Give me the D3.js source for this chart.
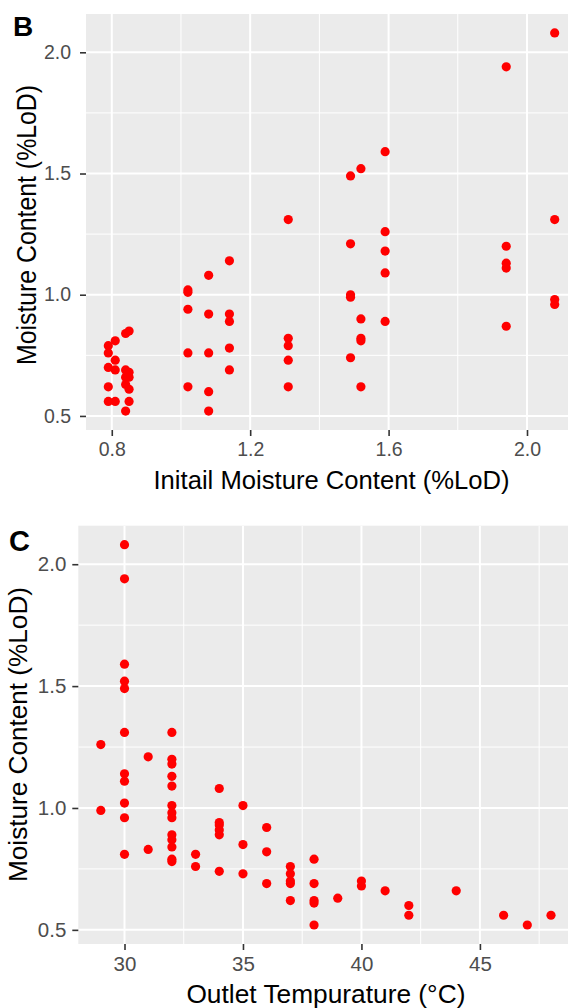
<!DOCTYPE html>
<html>
<head>
<meta charset="utf-8">
<script src="https://cdn.jsdelivr.net/npm/d3@7"></script>
<style>
  html, body { margin: 0; padding: 0; background: #fff; }
  svg { display: block; }
  text { font-family: "Liberation Sans", Arial, sans-serif; }
</style>
</head>
<body>
<svg id="chart" width="568" height="1008"></svg>
<script>
// ---------- Panel B data: initial moisture vs final moisture ----------
const bInitial = [
  0.79, 0.79, 0.79, 0.79, 0.79,
  0.81, 0.81, 0.81, 0.81,
  0.84, 0.84, 0.84, 0.84, 0.84,
  0.85, 0.85, 0.85, 0.85, 0.85,
  1.02, 1.02, 1.02, 1.02, 1.02,
  1.08, 1.08, 1.08, 1.08, 1.08,
  1.14, 1.14, 1.14, 1.14, 1.14,
  1.31, 1.31, 1.31, 1.31, 1.31,
  1.49, 1.49, 1.49, 1.49, 1.49,
  1.52, 1.52, 1.52, 1.52, 1.52,
  1.59, 1.59, 1.59, 1.59, 1.59,
  1.94, 1.94, 1.94, 1.94, 1.94,
  2.08, 2.08, 2.08, 2.08
];
const bMoisture = [
  0.79, 0.76, 0.70, 0.62, 0.56,
  0.81, 0.73, 0.69, 0.56,
  0.84, 0.69, 0.63, 0.52, 0.66,
  0.85, 0.68, 0.66, 0.61, 0.56,
  1.02, 1.01, 0.94, 0.76, 0.62,
  1.08, 0.92, 0.76, 0.60, 0.52,
  1.14, 0.92, 0.89, 0.78, 0.69,
  1.31, 0.82, 0.79, 0.73, 0.62,
  1.49, 1.21, 1.00, 0.99, 0.74,
  1.52, 0.90, 0.82, 0.81, 0.62,
  1.59, 1.26, 1.18, 1.09, 0.89,
  1.94, 1.20, 1.13, 1.11, 0.87,
  2.08, 1.31, 0.98, 0.96
];
const bXTicks = [0.8, 1.2, 1.6, 2.0];
const bXMinor = [0.6, 1.0, 1.4, 1.8, 2.2];
const bYTicks = [0.5, 1.0, 1.5, 2.0];
const bYMinor = [0.75, 1.25, 1.75];

// ---------- Panel C data: outlet temperature vs final moisture ----------
const cTemp = [
  29, 29,
  30, 30, 30, 30, 30, 30, 30, 30, 30, 30, 30,
  31, 31,
  32, 32, 32, 32, 32, 32, 32, 32, 32, 32, 32, 32, 32,
  33, 33,
  34, 34, 34, 34, 34, 34,
  35, 35, 35,
  36, 36, 36,
  37, 37, 37, 37, 37,
  38, 38, 38, 38, 38,
  39,
  40, 40,
  41,
  42, 42,
  44,
  46,
  47,
  48
];
const cMoisture = [
  1.26, 0.99,
  2.08, 1.94, 1.59, 1.52, 1.49, 1.31, 1.14, 1.11, 1.02, 0.96, 0.81,
  1.21, 0.83,
  1.31, 1.20, 1.18, 1.13, 1.09, 1.01, 0.98, 0.96, 0.89, 0.87, 0.84, 0.79, 0.78,
  0.81, 0.76,
  1.08, 0.94, 0.93, 0.91, 0.89, 0.74,
  1.01, 0.85, 0.73,
  0.92, 0.82, 0.69,
  0.76, 0.73, 0.70, 0.69, 0.62,
  0.79, 0.69, 0.62, 0.61, 0.52,
  0.63,
  0.70, 0.68,
  0.66,
  0.60, 0.56,
  0.66,
  0.56,
  0.52,
  0.56
];
const cXTicks = [30, 35, 40, 45];
const cXMinor = [27.5, 32.5, 37.5, 42.5, 47.5];
const cYTicks = [0.5, 1.0, 1.5, 2.0];
const cYMinor = [0.75, 1.25, 1.75];

const svg = d3.select("#chart");

function expand(vals) {
  const [lo, hi] = d3.extent(vals);
  const pad = (hi - lo) * 0.05;
  return [lo - pad, hi + pad];
}

function panel(cfg) {
  const x = d3.scaleLinear().domain(expand(cfg.xs)).range([cfg.left, cfg.right]);
  const y = d3.scaleLinear().domain(expand(cfg.ys)).range([cfg.bottom, cfg.top]);
  const g = svg.append("g");

  g.append("rect")
    .attr("x", cfg.left).attr("y", cfg.top)
    .attr("width", cfg.right - cfg.left).attr("height", cfg.bottom - cfg.top)
    .attr("fill", "#EBEBEB");

  const clipId = "clip" + cfg.label;
  g.append("clipPath").attr("id", clipId).append("rect")
    .attr("x", cfg.left).attr("y", cfg.top)
    .attr("width", cfg.right - cfg.left).attr("height", cfg.bottom - cfg.top);
  const inner = g.append("g").attr("clip-path", `url(#${clipId})`);

  // minor grid
  inner.selectAll(".xmin").data(cfg.xMinor).join("line")
    .attr("x1", d => x(d)).attr("x2", d => x(d))
    .attr("y1", cfg.top).attr("y2", cfg.bottom)
    .attr("stroke", "#fff").attr("stroke-width", 1);
  inner.selectAll(".ymin").data(cfg.yMinor).join("line")
    .attr("y1", d => y(d)).attr("y2", d => y(d))
    .attr("x1", cfg.left).attr("x2", cfg.right)
    .attr("stroke", "#fff").attr("stroke-width", 1);
  // major grid
  inner.selectAll(".xmaj").data(cfg.xTicks).join("line")
    .attr("x1", d => x(d)).attr("x2", d => x(d))
    .attr("y1", cfg.top).attr("y2", cfg.bottom)
    .attr("stroke", "#fff").attr("stroke-width", 2);
  inner.selectAll(".ymaj").data(cfg.yTicks).join("line")
    .attr("y1", d => y(d)).attr("y2", d => y(d))
    .attr("x1", cfg.left).attr("x2", cfg.right)
    .attr("stroke", "#fff").attr("stroke-width", 2);

  // points
  inner.selectAll("circle").data(cfg.xs.map((v, i) => [v, cfg.ys[i]])).join("circle")
    .attr("cx", d => x(d[0])).attr("cy", d => y(d[1]))
    .attr("r", 4.6).attr("fill", "#FF0000");

  // axes
  const xAxis = d3.axisBottom(x).tickValues(cfg.xTicks)
    .tickFormat(cfg.xFmt).tickSize(6).tickPadding(cfg.xPad);
  const gx = g.append("g").attr("transform", `translate(0,${cfg.bottom})`).call(xAxis);
  const yAxis = d3.axisLeft(y).tickValues(cfg.yTicks)
    .tickFormat(d3.format(".1f")).tickSize(6).tickPadding(cfg.yPad);
  const gy = g.append("g").attr("transform", `translate(${cfg.left},0)`).call(yAxis);
  [gx, gy].forEach(a => {
    a.select(".domain").remove();
    a.selectAll(".tick line").attr("stroke", "#333333").attr("stroke-width", 1.6);
    a.selectAll(".tick text").attr("fill", "#4D4D4D")
      .style("font-family", '"Liberation Sans", Arial, sans-serif')
      .style("font-size", cfg.tickSize + "px");
  });

  // axis titles
  const xt = g.append("text")
    .attr("x", (cfg.left + cfg.right) / 2).attr("y", cfg.xTitleY)
    .attr("text-anchor", "middle")
    .style("font-size", cfg.xTitleSize + "px").attr("fill", "#000")
    .text(cfg.xTitle);
  if (cfg.xTitleLen) xt.attr("textLength", cfg.xTitleLen).attr("lengthAdjust", "spacingAndGlyphs");
  const yt = g.append("text")
    .attr("transform", `translate(${cfg.yTitleX},${cfg.yTitleCY}) rotate(-90)`)
    .attr("text-anchor", "middle")
    .style("font-size", cfg.yTitleSize + "px").attr("fill", "#000")
    .text("Moisture Content (%LoD)");
  if (cfg.yTitleLen) yt.attr("textLength", cfg.yTitleLen).attr("lengthAdjust", "spacingAndGlyphs");

  // panel tag
  g.append("text")
    .attr("x", cfg.tagX).attr("y", cfg.tagY)
    .style("font-size", cfg.tagSize + "px").style("font-weight", "bold")
    .attr("fill", "#000")
    .text(cfg.label);
}

panel({
  label: "B", xs: bInitial, ys: bMoisture,
  left: 86, right: 577, top: 14, bottom: 430,
  xTicks: bXTicks, xMinor: bXMinor, yTicks: bYTicks, yMinor: bYMinor,
  xFmt: d3.format(".1f"), xPad: 6, yPad: 9, tickSize: 19.5,
  xTitle: "Initail Moisture Content (%LoD)", xTitleY: 489, xTitleSize: 25.8, xTitleLen: 356,
  yTitleX: 35.5, yTitleCY: 225, yTitleSize: 27.5, yTitleLen: 280,
  tagX: 13, tagY: 36, tagSize: 28
});

panel({
  label: "C", xs: cTemp, ys: cMoisture,
  left: 78.3, right: 573.5, top: 525.7, bottom: 944,
  xTicks: cXTicks, xMinor: cXMinor, yTicks: cYTicks, yMinor: cYMinor,
  xFmt: d3.format("d"), xPad: 6, yPad: 6, tickSize: 20.5,
  xTitle: "Outlet Tempurature (°C)", xTitleY: 1003, xTitleSize: 26.4, xTitleLen: 279,
  yTitleX: 27, yTitleCY: 734.5, yTitleSize: 26, yTitleLen: 295,
  tagX: 9, tagY: 551, tagSize: 29
});
</script>
</body>
</html>
